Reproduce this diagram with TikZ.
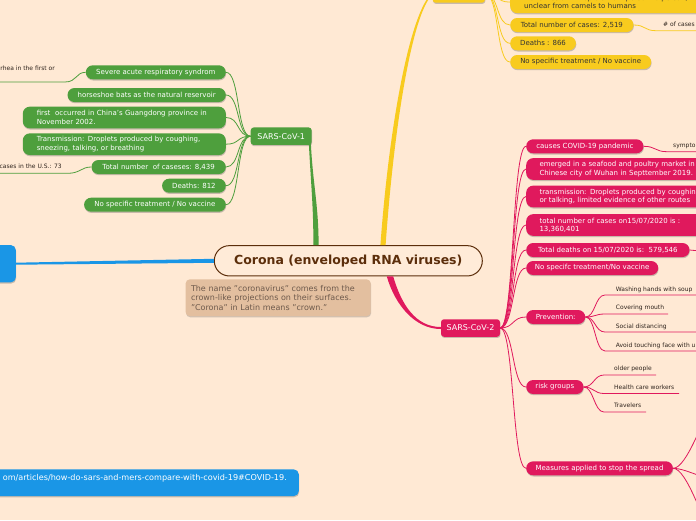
\documentclass[tikz,border=0pt]{standalone}
\usepackage{fontspec}
\setmainfont{DejaVu Sans}
\usetikzlibrary{positioning,calc,shadows}

\definecolor{bgpeach}{HTML}{FFE9D4}
\definecolor{corefill}{HTML}{FFEBD8}
\definecolor{mgreen}{HTML}{4E9F3D}
\definecolor{myellow}{HTML}{F8CB1E}
\definecolor{mpink}{HTML}{E0195D}
\definecolor{mblue}{HTML}{1A96E6}
\definecolor{mbrown}{HTML}{5C2E0B}
\definecolor{notetan}{HTML}{E3BF9F}
\definecolor{notetext}{HTML}{6E5A4C}
\definecolor{leaftext}{HTML}{2E231C}

\tikzset{
  topic/.style={rounded corners=7pt, inner xsep=0pt, inner ysep=0pt, minimum height=14pt,
    font=\fontsize{7}{8.5}\selectfont,
    drop shadow={shadow xshift=0.4pt, shadow yshift=-1.2pt, opacity=0.3, fill=black!70}},
  greenbox/.style={topic, fill=mgreen, text=white},
  yellowbox/.style={topic, fill=myellow, text=black!80},
  pinkbox/.style={topic, fill=mpink, text=white},
  bluebox/.style={topic, fill=mblue, text=white, rounded corners=5pt},
  mainbox/.style={topic, rounded corners=3pt, minimum height=17.5pt, font=\fontsize{8}{9.5}\selectfont, text=white},
  centerbox/.style={draw=mbrown, line width=1pt, fill=corefill, rounded corners=15pt,
    minimum width=268pt, minimum height=30.3pt, inner sep=0pt, text=mbrown,
    font=\bfseries\fontsize{12.5}{14}\selectfont},
  notebox/.style={fill=notetan, text=notetext, rounded corners=4pt, align=left,
    text width=174.4pt, inner xsep=5.3pt, minimum height=36.7pt,
    font=\fontsize{8}{9.5}\selectfont,
    drop shadow={shadow xshift=0.4pt, shadow yshift=-1.2pt, opacity=0.25, fill=black!70}},
  leaf/.style={inner sep=0pt, font=\fontsize{6}{7}\selectfont, text=leaftext},
  greenthin/.style={draw=mgreen, line width=0.8pt},
  yellowthin/.style={draw=myellow, line width=0.8pt},
  pinkthin/.style={draw=mpink, line width=0.8pt}
}

\begin{document}
\begin{tikzpicture}[x=1pt,y=-1pt]
% background
\fill[bgpeach] (0,0) rectangle (696,520);
\clip (0,0) rectangle (696,520);

% Central topic and its note
\node[centerbox] (corona) at (348.3,260.8) {Corona (enveloped RNA viruses)};
\node[notebox] (note) at (278.2,297.7) {The name "coronavirus" comes from the\\crown-like projections on their surfaces.\\"Corona" in Latin means "crown."};

% SARS-CoV-1 branch
\node[mainbox, fill=mgreen, minimum width=61pt] (sarsone) at (281.2,136.2) {SARS-CoV-1};
\node[greenbox, anchor=east, minimum width=140pt] (sone1) at (226,72.3) {Severe acute respiratory syndrom};
\node[greenbox, anchor=east, minimum width=158.3pt] (sone2) at (226,95) {horseshoe bats as the natural reservoir};
\node[greenbox, anchor=east, text width=175pt, inner xsep=14pt, align=left, minimum height=21.7pt] (sone3) at (226,117.5) {first\ \ occurred in China’s Guangdong province in\\November 2002.};
\node[greenbox, anchor=east, text width=175pt, inner xsep=14pt, align=left, minimum height=21.7pt] (sone4) at (226,144.2) {Transmission: Droplets produced by coughing,\\sneezing, talking, or breathing};
\node[greenbox, anchor=east, minimum width=134.3pt] (sone5) at (226,167) {Total number\ \ of caseses: 8,439};
\node[greenbox, anchor=east, minimum width=63.7pt] (sone6) at (226,185.7) {Deaths: 812};
\node[greenbox, anchor=east, minimum width=141.7pt] (sone7) at (226,204.7) {No specific treatment / No vaccine};
\foreach \k in {1,...,7}
  \draw[greenthin] (sarsone.west) .. controls +(-14,0) and +(14,0) .. (sone\k.east);
\coordinate (cgreen) at ($(corona.north)+(-32.3,0)$);
\coordinate (sonefoot) at ($(sarsone.south east)+(-2,-1)$);
\fill[mgreen] ($(sonefoot)+(-1,0)$) .. controls +(2,40) and +(0,-40) .. ($(cgreen)+(-2.6,0)$)
  -- ($(cgreen)+(2.6,0)$) .. controls +(0,-40) and +(2,40) .. ($(sonefoot)+(1,0)$) -- cycle;

% green leaves
\node[leaf, anchor=base east] (soneleaf1) at (55,70) {rhea in the first or};
\coordinate (soneleaf1a) at (-5,82);
\coordinate (soneleaf1b) at (65,82);
\draw[greenthin] (soneleaf1a) -- (soneleaf1b) .. controls +(12,0) and +(-10,0) .. (sone1.west);
\node[leaf, anchor=base east] (soneleaf2) at (62,168.5) {cases in the U.S.: 73};
\coordinate (soneleaf2a) at (-5,173.3);
\coordinate (soneleaf2b) at (68,173.3);
\draw[greenthin] (soneleaf2a) -- (soneleaf2b) .. controls +(12,0) and +(-10,0) .. (sone5.west);

% MERS branch (cut at the top)
\node[yellowbox, rounded corners=3pt, minimum width=52.3pt, minimum height=18pt] (mers) at (458.8,-6.3) {};
\node[yellowbox, anchor=south west, text width=190pt, inner xsep=14pt, align=left, minimum height=22pt] (mers1) at (510,13.3) {Transmission: Droplets from person to person,\\unclear from camels to humans};
\node[yellowbox, anchor=west, minimum width=123.3pt] (mers2) at (510,25) {Total number of cases: 2,519};
\node[yellowbox, anchor=west, minimum width=65.7pt] (mers3) at (510,43.3) {Deaths : 866};
\node[yellowbox, anchor=west, minimum width=141pt] (mers4) at (510,62) {No specific treatment / No vaccine};
\foreach \k in {1,...,4}
  \draw[yellowthin] (mers.east) .. controls +(14,0) and +(-14,0) .. (mers\k.west);
\coordinate (cyellow) at ($(corona.north)+(34.7,0)$);
\fill[myellow] ($(cyellow)+(-2.6,0)$) .. controls (389.5,120) and (411,10) .. ($(mers.west)+(0,-1)$)
  -- ($(mers.west)+(0,1)$) .. controls (413,12) and (394.5,120) .. ($(cyellow)+(2.6,0)$) -- cycle;
\node[leaf, anchor=base west] (mersleaf1) at (663,26.7) {\# of cases};
\coordinate (mersleaf1a) at (656,30.7);
\coordinate (mersleaf1b) at (700,30.7);
\draw[yellowthin] (mers2.east) .. controls +(12,0) and +(-12,0) .. (mersleaf1a) -- (mersleaf1b);

% SARS-CoV-2 branch
\node[mainbox, fill=mpink, minimum width=59pt] (sarstwo) at (470.5,328) {SARS-CoV-2};
\node[pinkbox, anchor=west, minimum width=117.3pt] (stwo1) at (526,146.3) {causes COVID-19 pandemic};
\node[pinkbox, anchor=west, text width=185pt, inner xsep=13.3pt, align=left, minimum height=21.7pt] (stwo2) at (526,169) {emerged in a seafood and poultry market in\\Chinese city of Wuhan in Septtember 2019.};
\node[pinkbox, anchor=west, text width=185pt, inner xsep=13.3pt, align=left, minimum height=21.7pt] (stwo3) at (526,196.5) {transmission: Droplets produced by coughing,\\or talking, limited evidence of other routes};
\node[pinkbox, anchor=west, text width=185pt, inner xsep=13.3pt, align=left, minimum height=21.7pt] (stwo4) at (526,225) {total number of cases on15/07/2020 is :\\13,360,401};
\node[pinkbox, anchor=west, minimum width=163.3pt] (stwo5) at (526,250) {Total deaths on 15/07/2020 is:\ \ 579,546};
\node[pinkbox, anchor=west, minimum width=132pt] (stwo6) at (526,268) {No specifc treatment/No vaccine};
\node[pinkbox, anchor=west, minimum width=59pt] (stwo7) at (526,317) {Prevention:};
\node[pinkbox, anchor=west, minimum width=57.3pt] (stwo8) at (526,387) {risk groups};
\node[pinkbox, anchor=west, minimum width=146.7pt] (stwo9) at (526,468.3) {Measures applied to stop the spread};
\foreach \k in {1,...,9}
  \draw[pinkthin] (sarstwo.east) .. controls +(14,0) and +(-14,0) .. (stwo\k.west);
\coordinate (cpink) at ($(corona.south)+(41.7,0)$);
\fill[mpink] ($(cpink)+(-3.2,0)$) .. controls (395,305) and (415,329) .. ($(sarstwo.west)+(0,1)$)
  -- ($(sarstwo.west)+(0,-1)$) .. controls (416,327) and (401.5,305) .. ($(cpink)+(3.2,0)$) -- cycle;

% pink leaves
\node[leaf, anchor=base west] (symp) at (673,147.7) {symptoms};
\coordinate (sympa) at (667,151.7);
\coordinate (sympb) at (700,151.7);
\draw[pinkthin] (stwo1.east) .. controls +(12,0) and +(-12,0) .. (sympa) -- (sympb);
\coordinate (deathsend) at (700,251);
\draw[pinkthin] (stwo5.east) -- (deathsend);

\foreach \name/\txt/\ty/\uy/\ux in {
    washhands/Washing hands with soup/291/295/700,
    covermouth/Covering mouth/309.7/314/668,
    socialdist/Social distancing/328/332/700,
    avoidface/Avoid touching face with unwashed hands/347/351/700} {
  \node[leaf, anchor=base west] (\name) at (615.7,\ty) {\txt};
  \coordinate (\name a) at (605,\uy);
  \coordinate (\name b) at (\ux,\uy);
  \draw[pinkthin] (stwo7.east) .. controls +(10,0) and +(-10,0) .. (\name a) -- (\name b);
}
\foreach \name/\txt/\ty/\uy/\ux in {
    older/older people/370.3/375/656,
    health/Health care workers/389/393.5/679,
    travel/Travelers/407/412/646} {
  \node[leaf, anchor=base west] (\name) at (614,\ty) {\txt};
  \coordinate (\name a) at (604,\uy);
  \coordinate (\name b) at (\ux,\uy);
  \draw[pinkthin] (stwo8.east) .. controls +(10,0) and +(-10,0) .. (\name a) -- (\name b);
}
\coordinate (spreadup) at (712,405);
\coordinate (spreadmid) at (712,478);
\coordinate (spreaddown) at (712,535);
\draw[pinkthin] (stwo9.east) .. controls +(14,0) and +(-8,10) .. (spreadup);
\draw[pinkthin] (stwo9.east) .. controls +(12,0) and +(-12,0) .. (spreadmid);
\draw[pinkthin] (stwo9.east) .. controls +(14,0) and +(-8,-10) .. (spreaddown);

% Blue branch (cut at the left)
\node[bluebox, anchor=east, minimum width=40pt, minimum height=37.3pt] (refs) at (16,263.7) {};
\fill[mblue] ($(refs.east)+(0,-1)$) -- ($(corona.west)+(0,-2)$) -- ($(corona.west)+(0,2)$) -- ($(refs.east)+(0,1)$) -- cycle;
\node[bluebox, anchor=east, minimum width=330pt, minimum height=26.7pt] (urlbox) at (299,482.7) {};
\node[anchor=east, inner sep=0pt, text=white, font=\fontsize{8.1}{9}\selectfont] (urltext) at ($(urlbox.north east)+(-12,8.7)$) {om/articles/how-do-sars-and-mers-compare-with-covid-19\#COVID-19.};
\end{tikzpicture}
\end{document}
